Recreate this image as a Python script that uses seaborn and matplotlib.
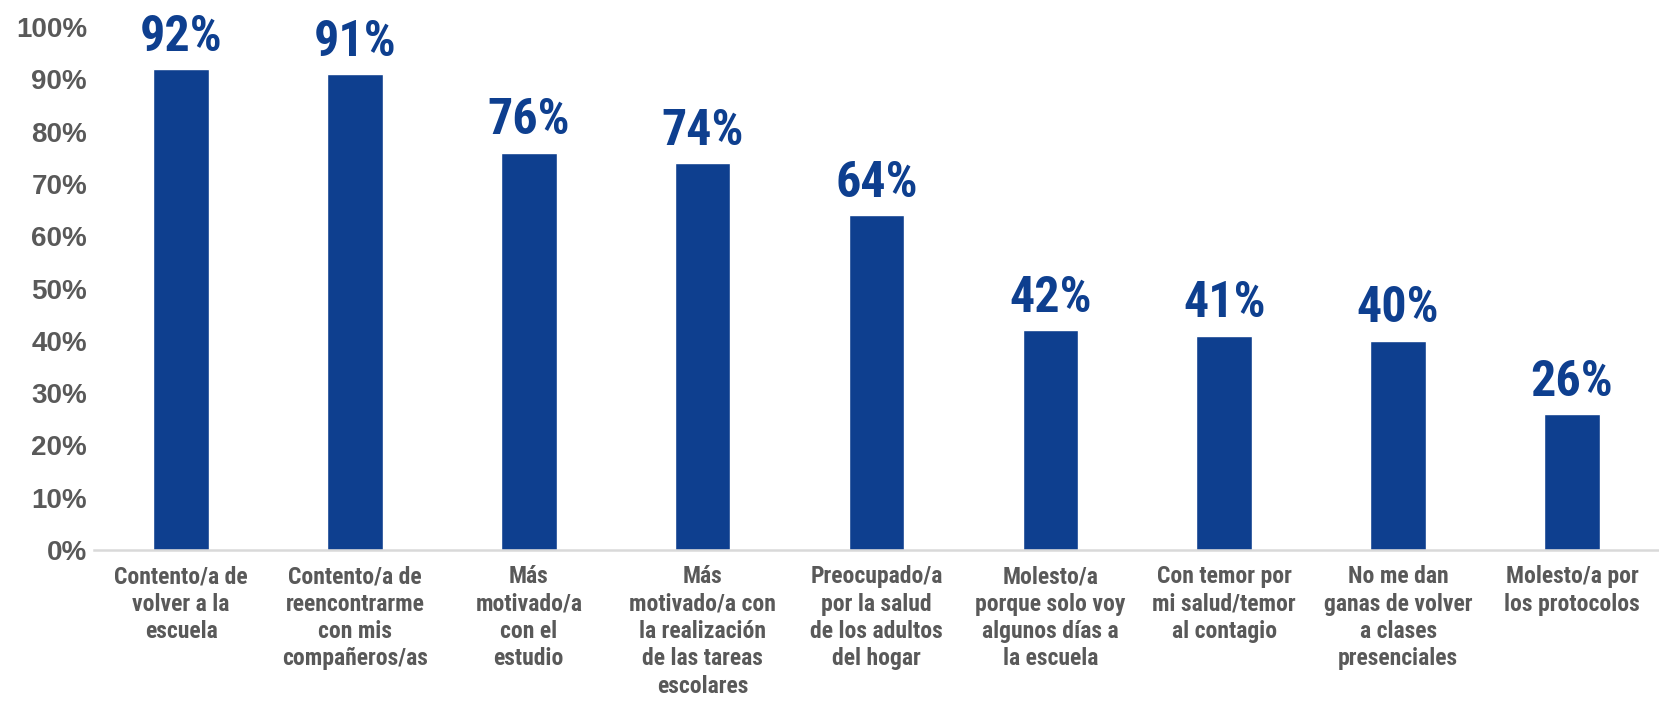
import matplotlib
matplotlib.use("Agg")
import matplotlib.pyplot as plt
import seaborn as sns
import pandas as pd
from matplotlib import font_manager

categories = [
    "Contento/a de\nvolver a la\nescuela",
    "Contento/a de\nreencontrarme\ncon mis\ncompañeros/as",
    "Más\nmotivado/a\ncon el\nestudio",
    "Más\nmotivado/a con\nla realización\nde las tareas\nescolares",
    "Preocupado/a\npor la salud\nde los adultos\ndel hogar",
    "Molesto/a\nporque solo voy\nalgunos días a\nla escuela",
    "Con temor por\nmi salud/temor\nal contagio",
    "No me dan\nganas de volver\na clases\npresenciales",
    "Molesto/a por\nlos protocolos",
]
values = [92, 91, 76, 74, 64, 42, 41, 40, 26]
yticks = [0, 10, 20, 30, 40, 50, 60, 70, 80, 90, 100]

sns.set_theme(style="white")

names = {f.name for f in font_manager.fontManager.ttflist}
narrow = [f for f in ["Liberation Sans Narrow", "DejaVu Sans Condensed", "Roboto Condensed"] if f in names]
narrow_family = narrow + ["Roboto", "DejaVu Sans"]
plt.rcParams['font.family'] = ["Liberation Sans", "DejaVu Sans"]

BLUE = "#0E3F8F"
GREY = "#595959"

df = pd.DataFrame({"cat": categories, "val": values})

fig = plt.figure(figsize=(16.59, 7.01), dpi=100)
ax = fig.add_axes([0.0567, 0.2154, 0.9433, 0.746])
sns.barplot(data=df, x="cat", y="val", color=BLUE, width=0.32, saturation=1, ax=ax)

ax.set_ylim(0, 100)
ax.set_xlim(-0.5, len(categories) - 0.5)
ax.set_yticks(yticks)
ax.set_yticklabels([f"{v}%" for v in yticks], fontsize=20, fontweight="bold", color=GREY)
ax.set_xlabel("")
ax.set_ylabel("")
ax.tick_params(axis="y", length=0, pad=5)
ax.tick_params(axis="x", length=0, pad=11)
for lab in ax.get_xticklabels():
    lab.set_fontsize(17)
    lab.set_fontweight("bold")
    lab.set_color(GREY)
    lab.set_family(narrow_family)
    lab.set_linespacing(1.24)
    lab.set_verticalalignment("top")

for s in ["top", "right", "left"]:
    ax.spines[s].set_visible(False)
ax.spines["bottom"].set_color("#D9D9D9")
ax.spines["bottom"].set_linewidth(1.8)

for i, v in enumerate(values):
    ax.annotate(f"{v}%", xy=(i, v), xytext=(0, 6), textcoords="offset points",
                ha="center", va="bottom", fontsize=36, fontweight="bold",
                color=BLUE, family=narrow_family, clip_on=False)

fig.savefig("out.png", dpi=100)
